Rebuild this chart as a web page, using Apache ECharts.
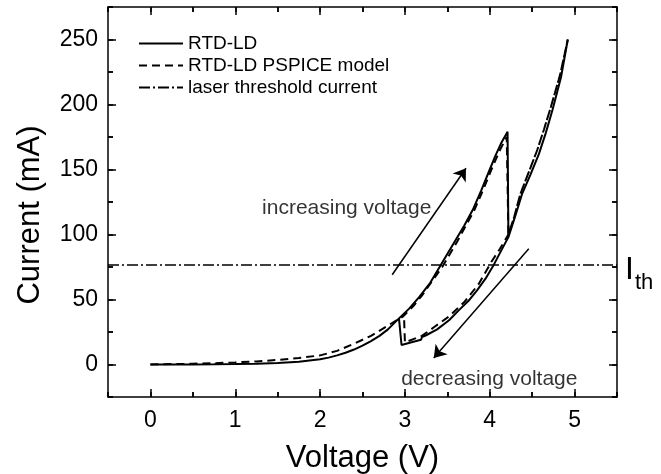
<!DOCTYPE html>
<html><head><meta charset="utf-8">
<script src="https://cdn.jsdelivr.net/npm/echarts@6/dist/echarts.min.js"></script>
<style>html,body{margin:0;padding:0;background:#fff;overflow:hidden}#c{width:661px;height:474px}</style>
</head><body><div id="c"></div>
<script>
// RTD-LD measured (increasing sweep, drop, up to end, then decreasing sweep back, jump)
const rtdV = [0,0.25,0.5,0.75,1.0,1.25,1.5,1.75,2.0,2.1,2.2,2.3,2.4,2.5,2.6,2.7,2.8,2.93,3.05,3.17,3.3,3.4,3.5,3.6,3.7,3.8,3.9,4.0,4.07,4.14,4.21,
  4.22,4.3,4.38,4.48,4.58,4.66,4.74,4.84,4.92,
  4.84,4.74,4.66,4.58,4.48,4.38,4.3,4.22,4.13,4.05,3.95,3.85,3.75,3.64,3.52,3.38,3.25,3.2,3.19,3.1,2.96,2.93];
const rtdI = [0,0,0,0.1,0.3,0.6,1.2,2.2,4,5.3,7,9,11.5,14.5,18,22,27,35.5,43,52,63,74,85,96,107,119,134,150,161,171,179,
  98,114,131,146,162,178,196,221,250,
  221,196,178,162,146,131,114,98,87,77,66,57,49,42,34,27,22.5,21,19,17.5,15,35.5];
// PSPICE model
const pspiceV = [0,0.25,0.5,0.75,1.0,1.25,1.5,1.75,2.0,2.2,2.4,2.6,2.8,2.98,3.1,3.2,3.32,3.44,3.53,3.62,3.72,3.82,3.92,4.02,4.12,4.2,
  4.22,4.29,4.36,4.46,4.56,4.64,4.72,4.83,4.92,
  4.83,4.72,4.64,4.56,4.46,4.36,4.29,4.22,4.12,4.02,3.87,3.7,3.52,3.35,3.2,3.1,3.0,2.99];
const pspiceI = [0,0.3,0.6,1.0,1.6,2.4,3.5,5,7,10.5,16,22,30,37,45,53,64,75,85,95,107,119,134,150,165,175,
  100,114,131,148,165,181,198,223,250,
  223,198,181,165,148,131,114,100,89,79,62,48,37,29,22,19.5,17,36];
const thresholdV = [-0.5, 5.5];
const thresholdI = [76.5, 76.5];
// axis ticks
const xMajor = [0, 1, 2, 3, 4, 5];
const xMinor = [-0.5, 0.5, 1.5, 2.5, 3.5, 4.5, 5.5];
const yMajor = [0, 50, 100, 150, 200, 250];
const yMinor = [-25, 25, 75, 125, 175, 225, 275];
// annotations
const arrowIncV = [2.85, 3.72], arrowIncI = [69, 151];
const arrowDecV = [4.46, 3.34], arrowDecI = [89, 5];
const noteText = ['increasing voltage', 'decreasing voltage'];
const noteV = [1.31, 2.95];
const noteI = [120.5, -11];

const X_MIN = -0.5, X_MAX = 5.5, Y_MIN = -25, Y_MAX = 275;
const PLOT_W = 509, PLOT_H = 390;
const FONT = 'Liberation Sans, Arial, sans-serif';
const BLACK = '#000';
const zip = (a, b) => a.map((v, i) => [v, b[i]]);

function xAx(pos, labels) {
  const ax = {
    type: 'value', position: pos, min: X_MIN, max: X_MAX, interval: 0.5,
    axisLine: { show: true, onZero: false, lineStyle: { color: BLACK, width: 1.5 } },
    axisTick: { show: true, inside: true, length: 5, lineStyle: { color: BLACK, width: 1.5 } },
    axisLabel: { show: false }, splitLine: { show: false }
  };
  if (labels) {
    ax.axisLabel = { show: true, customValues: xMajor, margin: 12, color: BLACK, fontSize: 23, fontFamily: FONT };
    ax.name = 'Voltage (V)'; ax.nameLocation = 'middle'; ax.nameGap = 46;
    ax.nameTextStyle = { color: BLACK, fontSize: 31, fontFamily: FONT };
  }
  return ax;
}
function yAx(pos, labels) {
  const ax = {
    type: 'value', position: pos, min: Y_MIN, max: Y_MAX, interval: 25,
    axisLine: { show: true, onZero: false, lineStyle: { color: BLACK, width: 1.5 } },
    axisTick: { show: true, inside: true, length: 5, lineStyle: { color: BLACK, width: 1.5 } },
    axisLabel: { show: false }, splitLine: { show: false }
  };
  if (labels) {
    ax.axisLabel = { show: true, customValues: yMajor, margin: 10, color: BLACK, fontSize: 23, fontFamily: FONT };
    ax.name = 'Current (mA)'; ax.nameLocation = 'middle'; ax.nameGap = 62;
    ax.nameTextStyle = { color: BLACK, fontSize: 31, fontFamily: FONT, padding: [0, 26, 0, 0] };
  }
  return ax;
}

// inside tick marks on all four sides, placed through the axis scales (lengths converted from pixels)
const dxPerPx = (X_MAX - X_MIN) / PLOT_W, dyPerPx = (Y_MAX - Y_MIN) / PLOT_H;
const tickPairs = [];
function addX(v, len) {
  tickPairs.push([{ coord: [v, Y_MIN] }, { coord: [v, Y_MIN + len * dyPerPx] }]);
  tickPairs.push([{ coord: [v, Y_MAX] }, { coord: [v, Y_MAX - len * dyPerPx] }]);
}
function addY(v, len) {
  tickPairs.push([{ coord: [X_MIN, v] }, { coord: [X_MIN + len * dxPerPx, v] }]);
  tickPairs.push([{ coord: [X_MAX, v] }, { coord: [X_MAX - len * dxPerPx, v] }]);
}
xMajor.forEach(v => addX(v, 8)); xMinor.forEach(v => addX(v, 5));
yMajor.forEach(v => addY(v, 8)); yMinor.forEach(v => addY(v, 5));

const chart = echarts.init(document.getElementById('c'));
chart.setOption({
  animation: false,
  grid: { left: 108, top: 7, right: 44, bottom: 77, outerBoundsMode: 'none' },
  xAxis: [xAx('bottom', true), xAx('top', false)],
  yAxis: [yAx('left', true), yAx('right', false)],
  legend: {
    data: ['RTD-LD', 'RTD-LD PSPICE model', 'laser threshold current'],
    orient: 'vertical', left: 138, top: 34, padding: 0, itemWidth: 44, itemHeight: 14, itemGap: 3,
    itemStyle: { opacity: 0, color: 'rgba(0,0,0,0)', borderWidth: 0 },
    textStyle: { color: BLACK, fontSize: 19, fontFamily: FONT, lineHeight: 19 }
  },
  series: [
    { name: 'RTD-LD', type: 'line', xAxisIndex: 0, yAxisIndex: 0, data: zip(rtdV, rtdI), symbol: 'none', showSymbol: false,
      lineStyle: { color: BLACK, width: 2, type: 'solid' }, itemStyle: { color: BLACK } },
    { name: 'RTD-LD PSPICE model', type: 'line', xAxisIndex: 0, yAxisIndex: 0, data: zip(pspiceV, pspiceI), symbol: 'none', showSymbol: false,
      lineStyle: { color: BLACK, width: 2, type: [8, 5] }, itemStyle: { color: BLACK } },
    { name: 'laser threshold current', type: 'line', xAxisIndex: 0, yAxisIndex: 0, data: zip(thresholdV, thresholdI), symbol: 'none', showSymbol: false,
      lineStyle: { color: BLACK, width: 1.5, type: [11, 3, 2, 3] }, itemStyle: { color: BLACK },
      endLabel: { show: true, distance: 8, offset: [0, 9], formatter: '{a|I}{b|th}',
        rich: { a: { fontSize: 32, fontFamily: FONT, color: BLACK, verticalAlign: 'bottom', padding: [0, 1, 8, 0] },
                b: { fontSize: 22, fontFamily: FONT, color: BLACK, verticalAlign: 'bottom' } } } },
    { name: 'arrows', type: 'line', xAxisIndex: 0, yAxisIndex: 0, data: [], symbol: 'none',
      markLine: { silent: true, symbol: ['none', 'arrow'], symbolSize: 12, animation: false,
        label: { show: false }, lineStyle: { color: BLACK, width: 1.5, type: 'solid' },
        data: [
          [{ coord: [arrowIncV[0], arrowIncI[0]] }, { coord: [arrowIncV[1], arrowIncI[1]] }],
          [{ coord: [arrowDecV[0], arrowDecI[0]] }, { coord: [arrowDecV[1], arrowDecI[1]] }]
        ] } },
    { name: 'tickmarks', type: 'line', xAxisIndex: 0, yAxisIndex: 0, data: [], symbol: 'none',
      markLine: { silent: true, symbol: ['none', 'none'], animation: false,
        label: { show: false }, emphasis: { disabled: true },
        lineStyle: { color: BLACK, width: 1.5, type: 'solid' }, data: tickPairs } },
    { name: 'notes', type: 'scatter', xAxisIndex: 0, yAxisIndex: 0, symbolSize: 1, itemStyle: { color: 'rgba(0,0,0,0)' },
      data: noteText.map((t, i) => ({ name: t, value: [noteV[i], noteI[i]] })),
      label: { show: true, position: 'right', distance: 0, formatter: '{b}', color: BLACK, fontSize: 21, fontFamily: FONT } }
  ]
});
</script></body></html>
